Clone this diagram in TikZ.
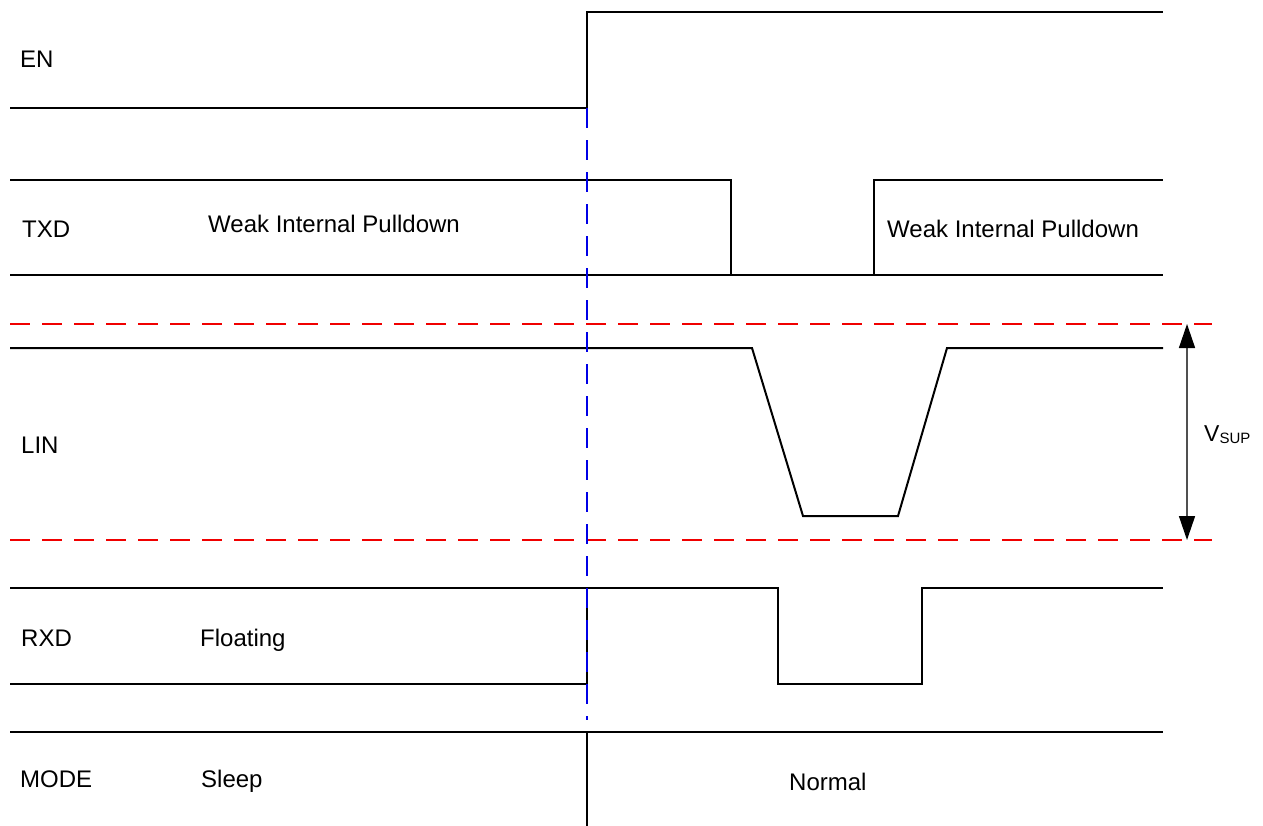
\documentclass[tikz,border=0pt]{standalone}
\usepackage{fontspec}
\setmainfont{Liberation Sans}
\usetikzlibrary{arrows.meta}
\definecolor{dashred}{RGB}{240,0,0}
\definecolor{dashblue}{RGB}{0,0,230}
\definecolor{arrowgray}{RGB}{80,80,80}
\begin{document}
\begin{tikzpicture}[x=1pt,y=-1pt,
  sig/.style={line width=2pt,black,line join=miter},
  reddash/.style={line width=2pt,dashred,dash pattern=on 20pt off 12pt},
  bluedash/.style={line width=2pt,dashblue,dash pattern=on 20pt off 12pt},
  lbl/.style={anchor=base west,inner sep=0pt,font=\fontsize{24}{28}\selectfont},
  vsuparrow/.style={arrowgray,line width=1.5pt,
    {Triangle[length=24pt,width=16pt,color=black]}-{Triangle[length=24pt,width=16pt,color=black]}}]
\useasboundingbox (0,0) rectangle (1263,825);
% EN
\draw[sig] (10,108) -- (587,108) -- (587,12) -- (1163,12);
% TXD
\draw[sig] (10,180) -- (731,180) -- (731,275);
\draw[sig] (10,275) -- (1163,275);
\draw[sig] (874,275) -- (874,180) -- (1163,180);
% LIN
\draw[sig] (10,348) -- (752,348) -- (803,516) -- (898,516) -- (947,348) -- (1163,348);
% RXD
\draw[sig] (10,588) -- (778,588) -- (778,684) -- (922,684) -- (922,588) -- (1163,588);
\draw[sig] (10,684) -- (587,684) -- (587,588);
% MODE
\draw[sig] (10,732) -- (1163,732);
\draw[sig] (587,732) -- (587,826);
% threshold lines
\draw[reddash] (10,324) -- (1212,324);
\draw[reddash] (10,540) -- (1212,540);
% time marker
\draw[bluedash] (587,108) -- (587,720);
% VSUP arrow
\coordinate (vt) at (1187,324);
\coordinate (vb) at (1187,540);
\draw[vsuparrow] (vt) -- (vb);
% labels
\node[lbl] (en) at (20,67) {EN};
\node[lbl] (txd) at (22,237) {TXD};
\node[lbl] (wip1) at (208,232) {Weak Internal Pulldown};
\node[lbl] (wip2) at (887,237) {Weak Internal Pulldown};
\node[lbl] (lin) at (21,453) {LIN};
\node[lbl] (rxd) at (21,646) {RXD};
\node[lbl] (flt) at (200,646) {Floating};
\node[lbl] (mode) at (20,787) {MODE};
\node[lbl] (slp) at (201,787) {Sleep};
\node[lbl] (nrm) at (789,790) {Normal};
\node[anchor=base west,inner sep=0pt] (vsup) at (1204,441)
  {{\fontsize{23}{26}\selectfont V}{\fontsize{15}{18}\selectfont\raisebox{-2pt}{SUP}}};
\end{tikzpicture}
\end{document}
